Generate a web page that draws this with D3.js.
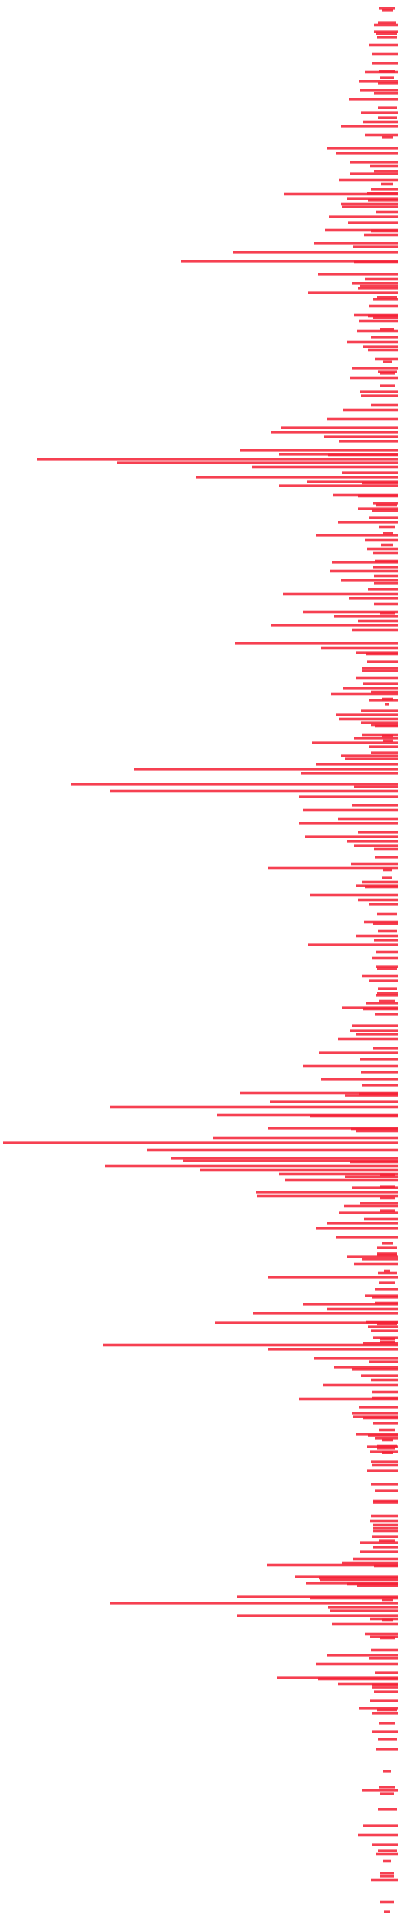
<!DOCTYPE html>
<html>
<head>
<meta charset="utf-8">
<script src="https://cdn.jsdelivr.net/npm/d3@7"></script>
<style>
  html, body { margin: 0; padding: 0; background: #ffffff; }
  svg { display: block; }
</style>
</head>
<body>
<div id="chart"></div>
<script>
// ---- DATA ----
// Scale domain: value axis 0..200, row axis 0..960
const valueMax = 200;
const rowMax = 960;
const axisEnd = 199;

// Bars that run to the end of the value axis: row position and start value
const fullPos = [
  12.5,15.85,22.5,27,31.65,36,40.65,41.65,45.15,46.65,49.65,56.35,61,63.15,67.5,74.15,76.65,81.15,83,85.65,86.85,90,94.65,96.65,97,99.35,100.15,102,103.35,106,108.35,111.35,115,115.5,117.5,
  121.65,123.35,126.15,130.65,131,137.15,139.5,141.65,143,144.15,146.35,149.65,153,157.5,158,158.85,160.5,165.5,168.65,171,173.35,175,179.5,184.15,189,195.85,197.85,202.5,205,209.5,213.85,216.15,218.35,220.65,225.15,227.15,227.5,229.65,231.35,233.5,236.35,238.65,
  240.85,241.5,242.85,247.5,248,251.65,254.35,255.35,258.85,261.15,267.65,270,274.5,276.5,280.5,281.15,283.65,285.5,288,290.15,291.65,294.65,297,299.15,302,306,308.15,310.5,312.65,315,321.65,324,326.35,327,330.85,334.15,335.35,339,341.85,344.15,346,347,350.15,355.35,357.35,359.5,
  361.35,362.5,363,367.5,369.15,371.35,373.35,376.35,377.85,379.35,382.15,384.65,386.65,392.15,393.35,395.5,398.35,402.65,405,409.5,411.65,416.15,418.35,420.65,422.85,424.5,428.65,432,434,441,442.85,443.5,447.5,450,452.15,461,461.85,468,470.15,472.35,476,479,
  483.35,488,490.35,496.65,497.65,501.65,503.85,504.5,507.15,512.85,515.35,517.15,519.5,524.15,526.35,529.65,533,536.15,539.65,542.65,546.5,547,547.75,550.85,553.5,557.5,558,564.15,564.5,565.5,569,571.35,575,579.15,580.35,581,583,585,587,588.35,590,593.85,596.15,598,
  601.65,603,606.35,609.5,611.65,614.15,618.65,628.35,629.65,632,638.65,644.65,647.85,648.65,651.5,652.15,654.5,656.65,661.35,661,663.35,665.35,668.85,671.65,672.5,674.65,679.15,680.85,683.65,684.65,687.85,690,692.5,696,699,699.5,703.65,706.65,708.35,709,711.65,717.15,717.75,719.15,
  723.35,725.85,730.85,732.5,735.35,742.15,745.35,750.5,751.25,758,760.5,762.5,764.15,765.5,768.35,771.35,773.65,775.85,779.5,781.5,782.5,783,788.35,789,790,791.65,792,792.85,798.35,799,801.65,803.65,805.35,807.85,809.5,812,817,818.35,825,827.65,829.15,832,836.35,838.85,839.5,
  842,842.5,843.75,845.85,850.35,854.15,856.65,865.85,874.65,895.15,912.85,917.5,922.35,927,940
];
const fullStart = [
  187,187,184.5,186,186,182.5,179.5,189,180,187,174.5,180.5,181.5,170.5,182.5,163.5,168,175,185,187,175,169.5,185.5,183.5,142,173.5,184,170.5,171,188,164.5,174,162.5,185.5,182,
  157,176.5,116.5,90.5,177,159,182.5,176,180,179,154,186.5,184.5,177,184,186.5,179.5,178.5,185.5,173.5,181.5,184,187.5,176,175,180,180.5,185.5,171.5,163.5,140.5,135.5,162,169.5,120,139.5,164,18.5,58.5,126,171,98,
  153.5,181,139.5,166.5,179,186.5,179,186,184.5,169,158,182.5,183.5,186.5,187.5,166,186.5,165,187,170.5,187,184,141.5,174.5,187,151.5,167,179,135.5,176,117.5,160.5,178,183,183.5,181,181,178,181.5,171.5,185.5,165.5,184.5,180.5,168,169.5,
  180.5,185.5,187.5,181,177,156,184.5,185.5,170.5,172.5,158,67,150.5,35.5,177,55,149.5,176,151.5,169,149.5,179,152.5,173.5,177,187,187.5,175.5,134,181,178,182.5,155,179,184.5,182,186.5,178,187,154,188,186,
  188,181,184.5,188.5,188,183,171,181.5,187.5,176,175,178,169,186.5,159.5,180,151.5,180.5,160.5,181,120,179.5,172.5,135,55,108.5,155,134,175.5,178,106.5,1.5,73.5,85.5,91.5,175,52.5,100,139.5,172.5,142.5,176,128,128.5,
  180,172,169.5,182,163.5,158,168,173.5,181,177,134,187.5,182.5,186,187.5,151.5,163.5,126.5,107.5,183,184,185.5,186.5,181.5,51.5,134,157,184.5,167,176,180.5,185.5,161.5,186,186,149.5,179.5,176,176.5,181.5,186.5,178,184,187.5,
  183.5,185,185.5,186,183.5,185.5,187.5,186.5,186.5,185.5,185,186.5,186.5,186.5,186,180,186.5,180,176.5,171,133.5,187,147.5,159.5,160,153,173.5,178.5,118.5,155,55,164,165,118.5,185,166,182.5,185,185.5,163.5,184.5,158,187.5,138.5,159,
  169,186,186,187,185,179.5,186,186,188,181,181.5,179,186,188,185.5
];

// Short floating bars: row position, start value, end value
const chipPos = [
  4.15,5.15,11.35,16.85,18.65,35.65,38.85,53.85,58.85,68.65,92,
  148.65,164.65,180.85,185.85,186.65,192.85,
  252.5,263.5,266.65,272.5,306.65,349.5,352.15,
  368,370.35,435,438.85,457,465.5,
  484.35,494.35,500.5,587.5,593.35,599,
  605.35,621.65,623.85,626.75,627.5,635.5,636.5,641.35,662,669.5,671,715,
  720,723,724.15,726.35,770.35,800,810,819,
  855,861.65,869.65,885.65,893.65,896.85,904.65,925.35,930.5,936.65,938.15,951,955.85
];
const chipStart = [
  189.5,191,189,188,188.5,189.5,190,189,189,191,190.5,
  188.5,190,191.5,189,190,190,
  188,189.5,191.5,190.5,190,191,192.5,
  191,191.5,191.5,191,188.5,189,
  188.5,189,189.5,190,190,190,
  190,191,188.5,188.5,188.5,192,189,189.5,188.5,190,190,189.5,
  191,188.5,188.5,191,189.5,191,191,190,
  188.5,189.5,189,191.5,189.5,190,189,189,191.5,190,190,190,192
];
const chipEnd = [
  197.5,196.5,198,198.5,198.5,197.5,197,198.5,198.5,196.5,196.5,
  198.5,197,196,198.5,197.5,197.5,
  198.5,197.5,196.5,196.5,197.5,196.5,194.5,
  196.5,196.5,196,196,198.5,198.5,
  198.5,198.5,197.5,197.5,197.5,197.5,
  197.5,196.5,198.5,198.5,198.5,195,198.5,197.5,198.5,197.5,197.5,197.5,
  196.5,198.5,197.5,196.5,197.5,196.5,196.5,197.5,
  198.5,197.5,198.5,195.5,197.5,197,198.5,198.5,195.5,197,197,197,195
];

// ---- BUILD TABLE ----
const bars = [];
fullPos.forEach((p, i) => bars.push({ pos: p, start: fullStart[i], end: axisEnd }));
chipPos.forEach((p, i) => bars.push({ pos: p, start: chipStart[i], end: chipEnd[i] }));
bars.sort((a, b) => a.pos - b.pos);

// ---- DRAW ----
const width = 400, height = 1920;
const barThickness = 2.6;

const x = d3.scaleLinear().domain([0, valueMax]).range([0, width]);
const y = d3.scaleLinear().domain([0, rowMax]).range([0, height]);

const svg = d3.select("#chart").append("svg")
  .attr("width", width)
  .attr("height", height)
  .attr("viewBox", [0, 0, width, height]);

svg.append("rect").attr("width", width).attr("height", height).attr("fill", "#ffffff");

svg.append("g")
  .selectAll("rect")
  .data(bars)
  .join("rect")
  .attr("x", d => x(d.start))
  .attr("y", d => y(d.pos) - barThickness / 2)
  .attr("width", d => x(d.end) - x(d.start))
  .attr("height", barThickness)
  .attr("fill", "rgb(245,30,50)")
  .attr("fill-opacity", 0.85);
</script>
</body>
</html>
